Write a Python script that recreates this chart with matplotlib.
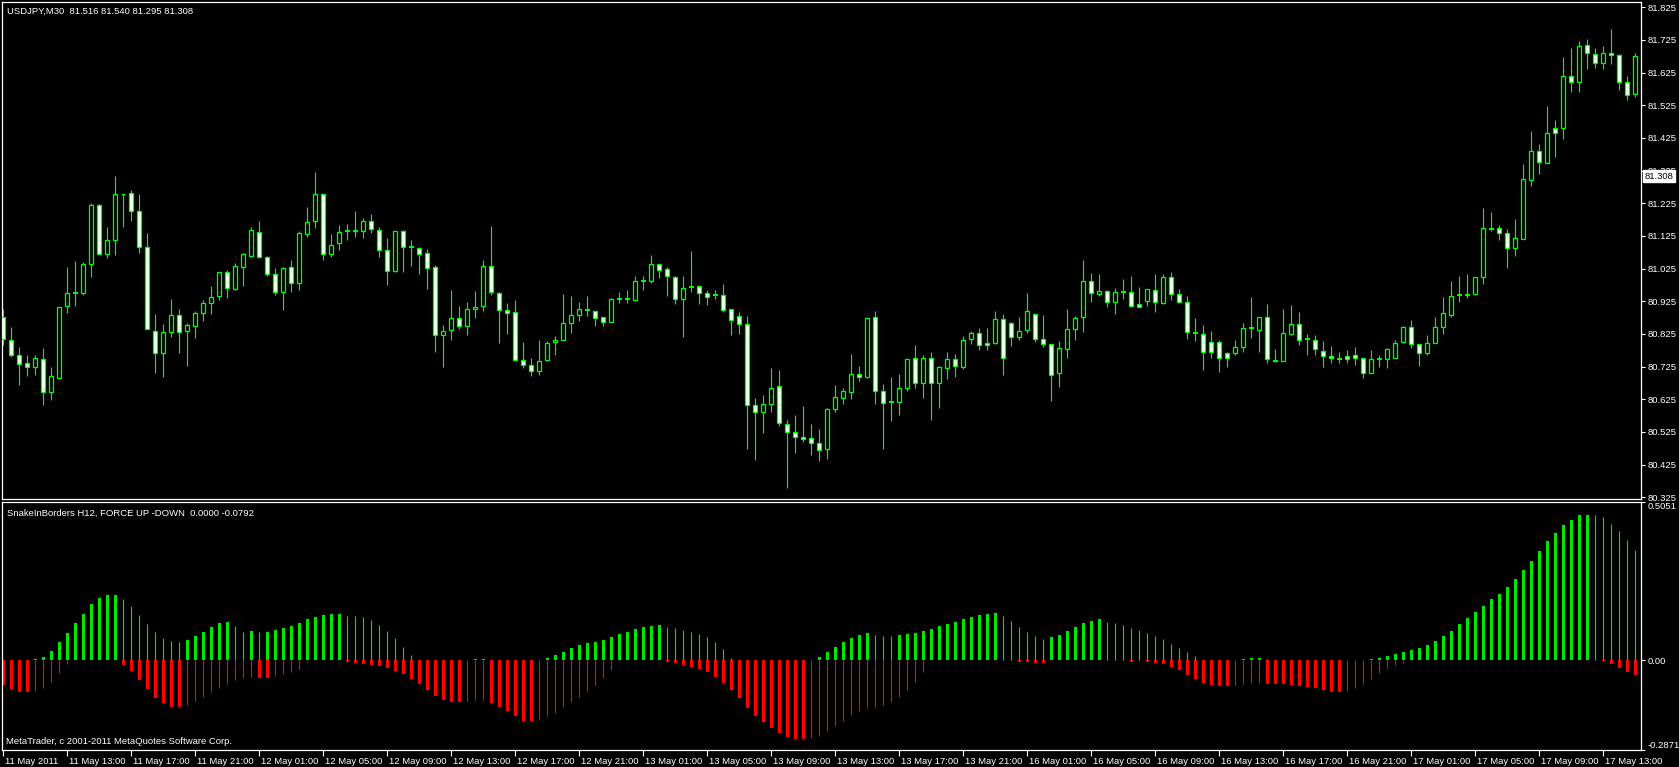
import numpy as np
import matplotlib
matplotlib.use("Agg")
import matplotlib.pyplot as plt
from matplotlib.transforms import ScaledTranslation, blended_transform_factory

# --- datos del grafico (USDJPY M30) ---
opens = [80.876, 80.808, 80.762, 80.735, 80.723, 80.747, 80.646, 80.690, 80.912, 80.949,
         80.951, 81.038, 81.219, 81.071, 81.113, 81.255, 81.258, 81.200, 81.092, 80.835,
         80.768, 80.832, 80.882, 80.835, 80.850, 80.888, 80.921, 80.942, 81.016, 80.964,
         81.031, 81.065, 81.136, 81.061, 81.009, 80.954, 81.029, 80.980, 81.130, 81.170,
         81.252, 81.069, 81.102, 81.139, 81.139, 81.139, 81.170, 81.142, 81.081, 81.019,
         81.139, 81.090, 81.087, 81.072, 81.029, 80.821, 80.836, 80.875, 80.848, 80.902,
         80.911, 81.032, 80.951, 80.897, 80.893, 80.746, 80.731, 80.713, 80.744, 80.799,
         80.808, 80.860, 80.882, 80.898, 80.894, 80.876, 80.863, 80.931, 80.931, 80.929,
         80.988, 80.988, 81.040, 81.023, 80.998, 80.933, 80.970, 80.972, 80.949, 80.945,
         80.943, 80.900, 80.879, 80.856, 80.608, 80.585, 80.612, 80.665, 80.551, 80.524,
         80.511, 80.508, 80.490, 80.474, 80.594, 80.630, 80.648, 80.701, 80.694, 80.876,
         80.652, 80.618, 80.618, 80.661, 80.750, 80.676, 80.750, 80.676, 80.720, 80.747,
         80.725, 80.810, 80.827, 80.796, 80.796, 80.870, 80.859, 80.817, 80.836, 80.885,
         80.811, 80.793, 80.706, 80.780, 80.839, 80.876, 80.986, 80.946, 80.958, 80.924,
         80.954, 80.954, 80.918, 80.927, 80.961, 80.920, 80.998, 80.946, 80.924, 80.829,
         80.824, 80.799, 80.799, 80.768, 80.768, 80.786, 80.843, 80.837, 80.876, 80.745,
         80.743, 80.824, 80.855, 80.810, 80.808, 80.773, 80.759, 80.749, 80.757, 80.760,
         80.753, 80.707, 80.749, 80.747, 80.753, 80.799, 80.845, 80.794, 80.767, 80.798,
         80.847, 80.884, 80.945, 80.945, 80.947, 80.998, 81.147, 81.148, 81.133, 81.087,
         81.117, 81.296, 81.386, 81.347, 81.455, 81.454, 81.616, 81.595, 81.711, 81.681,
         81.656, 81.685, 81.678, 81.595, 81.561]
highs = [80.903, 80.845, 80.786, 80.762, 80.762, 80.781, 80.723, 80.909, 81.029, 81.047,
         81.044, 81.225, 81.222, 81.154, 81.310, 81.255, 81.266, 81.255, 81.133, 80.885,
         80.857, 80.931, 80.903, 80.858, 80.895, 80.929, 80.971, 81.016, 81.020, 81.041,
         81.072, 81.154, 81.171, 81.065, 81.026, 81.029, 81.050, 81.140, 81.213, 81.321,
         81.258, 81.130, 81.160, 81.162, 81.200, 81.179, 81.191, 81.154, 81.118, 81.141,
         81.143, 81.112, 81.090, 81.086, 81.035, 80.851, 80.961, 80.912, 80.922, 80.958,
         81.050, 81.157, 80.952, 80.919, 80.929, 80.799, 80.753, 80.808, 80.804, 80.818,
         80.947, 80.941, 80.922, 80.941, 80.894, 80.876, 80.934, 80.952, 80.961, 81.004,
         81.004, 81.066, 81.040, 81.029, 81.004, 81.002, 81.078, 80.975, 80.961, 80.961,
         80.978, 80.903, 80.891, 80.880, 80.628, 80.637, 80.720, 80.715, 80.561, 80.577,
         80.604, 80.551, 80.533, 80.598, 80.668, 80.661, 80.763, 80.726, 80.873, 80.894,
         80.671, 80.692, 80.704, 80.747, 80.790, 80.762, 80.770, 80.726, 80.770, 80.763,
         80.819, 80.834, 80.843, 80.843, 80.894, 80.885, 80.862, 80.876, 80.949, 80.888,
         80.882, 80.793, 80.805, 80.900, 80.879, 81.050, 81.013, 81.010, 80.961, 80.965,
         80.992, 81.002, 80.969, 80.964, 81.008, 81.010, 81.014, 80.962, 80.941, 80.873,
         80.852, 80.833, 80.806, 80.770, 80.808, 80.859, 80.939, 80.876, 80.916, 80.779,
         80.903, 80.913, 80.892, 80.824, 80.822, 80.803, 80.788, 80.770, 80.776, 80.786,
         80.753, 80.776, 80.760, 80.781, 80.806, 80.849, 80.867, 80.794, 80.822, 80.876,
         80.939, 80.987, 81.002, 81.010, 81.000, 81.212, 81.198, 81.160, 81.145, 81.177,
         81.345, 81.446, 81.408, 81.523, 81.480, 81.672, 81.699, 81.722, 81.727, 81.699,
         81.706, 81.758, 81.682, 81.614, 81.686]
lows = [80.791, 80.755, 80.669, 80.696, 80.699, 80.607, 80.623, 80.687, 80.889, 80.910,
        80.944, 80.999, 81.071, 81.058, 81.068, 81.153, 81.172, 81.074, 80.839, 80.706,
        80.693, 80.816, 80.768, 80.727, 80.813, 80.865, 80.887, 80.929, 80.935, 80.959,
        80.972, 81.060, 81.057, 81.004, 80.945, 80.898, 80.953, 80.959, 81.121, 81.150,
        81.051, 81.060, 81.082, 81.112, 81.121, 81.120, 81.135, 81.060, 80.975, 81.015,
        81.015, 81.033, 81.008, 80.962, 80.771, 80.725, 80.806, 80.841, 80.822, 80.873,
        80.896, 80.945, 80.798, 80.826, 80.745, 80.722, 80.697, 80.699, 80.743, 80.761,
        80.806, 80.829, 80.866, 80.881, 80.850, 80.850, 80.862, 80.921, 80.921, 80.927,
        80.959, 80.982, 80.996, 80.942, 80.918, 80.817, 80.954, 80.917, 80.914, 80.932,
        80.893, 80.822, 80.825, 80.473, 80.439, 80.522, 80.586, 80.543, 80.354, 80.461,
        80.495, 80.455, 80.437, 80.443, 80.587, 80.611, 80.627, 80.681, 80.691, 80.611,
        80.474, 80.559, 80.578, 80.651, 80.660, 80.630, 80.561, 80.599, 80.687, 80.693,
        80.719, 80.794, 80.776, 80.776, 80.794, 80.699, 80.789, 80.806, 80.829, 80.801,
        80.786, 80.621, 80.663, 80.752, 80.807, 80.832, 80.924, 80.942, 80.908, 80.887,
        80.932, 80.908, 80.908, 80.912, 80.893, 80.918, 80.930, 80.920, 80.811, 80.804,
        80.714, 80.752, 80.709, 80.725, 80.762, 80.770, 80.813, 80.770, 80.737, 80.738,
        80.743, 80.823, 80.791, 80.762, 80.760, 80.725, 80.737, 80.737, 80.737, 80.730,
        80.689, 80.707, 80.725, 80.722, 80.752, 80.796, 80.781, 80.728, 80.762, 80.796,
        80.826, 80.878, 80.924, 80.934, 80.944, 80.978, 81.141, 81.114, 81.028, 81.063,
        81.115, 81.279, 81.314, 81.347, 81.367, 81.421, 81.565, 81.565, 81.637, 81.640,
        81.637, 81.651, 81.573, 81.542, 81.550]
closes = [80.811, 80.762, 80.732, 80.723, 80.750, 80.646, 80.695, 80.909, 80.949, 80.949,
          81.038, 81.219, 81.071, 81.113, 81.252, 81.253, 81.202, 81.092, 80.839, 80.766,
          80.832, 80.882, 80.830, 80.854, 80.888, 80.919, 80.939, 81.016, 80.965, 81.032,
          81.069, 81.142, 81.062, 81.010, 80.955, 81.026, 80.980, 81.133, 81.167, 81.252,
          81.069, 81.098, 81.136, 81.139, 81.142, 81.172, 81.145, 81.081, 81.017, 81.139,
          81.090, 81.090, 81.069, 81.026, 80.821, 80.833, 80.873, 80.848, 80.903, 80.909,
          81.032, 80.952, 80.897, 80.890, 80.745, 80.729, 80.713, 80.743, 80.798, 80.807,
          80.860, 80.882, 80.900, 80.898, 80.873, 80.863, 80.931, 80.931, 80.931, 80.986,
          80.988, 81.038, 81.022, 81.001, 80.933, 80.966, 80.970, 80.949, 80.939, 80.945,
          80.898, 80.869, 80.856, 80.608, 80.585, 80.612, 80.661, 80.554, 80.524, 80.511,
          80.505, 80.490, 80.469, 80.595, 80.631, 80.649, 80.701, 80.694, 80.873, 80.649,
          80.615, 80.618, 80.661, 80.747, 80.674, 80.750, 80.676, 80.723, 80.747, 80.728,
          80.808, 80.827, 80.792, 80.790, 80.870, 80.750, 80.817, 80.833, 80.894, 80.811,
          80.793, 80.698, 80.781, 80.839, 80.873, 80.986, 80.949, 80.958, 80.922, 80.952,
          80.954, 80.912, 80.908, 80.964, 80.922, 80.998, 80.946, 80.924, 80.832, 80.829,
          80.770, 80.770, 80.750, 80.750, 80.784, 80.842, 80.843, 80.876, 80.747, 80.743,
          80.827, 80.855, 80.806, 80.810, 80.778, 80.757, 80.750, 80.749, 80.747, 80.753,
          80.707, 80.748, 80.749, 80.778, 80.796, 80.847, 80.794, 80.767, 80.798, 80.847,
          80.888, 80.941, 80.945, 80.948, 81.000, 81.148, 81.147, 81.133, 81.087, 81.119,
          81.298, 81.386, 81.350, 81.439, 81.439, 81.616, 81.596, 81.708, 81.684, 81.656,
          81.684, 81.679, 81.595, 81.557, 81.676]

# SnakeInBorders H12 - FORCE UP / DOWN
force_up = [0.000, 0.000, 0.000, 0.000, 0.002, 0.011, 0.029, 0.058, 0.087, 0.119,
            0.148, 0.180, 0.199, 0.209, 0.209, 0.196, 0.173, 0.144, 0.115, 0.090,
            0.071, 0.061, 0.058, 0.064, 0.077, 0.090, 0.106, 0.119, 0.122, 0.109,
            0.090, 0.093, 0.090, 0.090, 0.096, 0.103, 0.109, 0.119, 0.132, 0.138,
            0.144, 0.148, 0.148, 0.141, 0.140, 0.138, 0.128, 0.112, 0.093, 0.071,
            0.042, 0.016, 0.000, 0.000, 0.000, 0.000, 0.000, 0.000, 0.001, 0.002,
            0.002, 0.000, 0.000, 0.000, 0.000, 0.000, 0.000, 0.001, 0.006, 0.016,
            0.026, 0.039, 0.048, 0.055, 0.058, 0.064, 0.074, 0.083, 0.090, 0.099,
            0.106, 0.109, 0.112, 0.106, 0.103, 0.096, 0.090, 0.083, 0.074, 0.058,
            0.035, 0.006, 0.000, 0.000, 0.000, 0.000, 0.000, 0.000, 0.000, 0.000,
            0.000, 0.001, 0.010, 0.026, 0.042, 0.058, 0.071, 0.080, 0.087, 0.080,
            0.077, 0.076, 0.080, 0.083, 0.087, 0.093, 0.099, 0.109, 0.116, 0.122,
            0.132, 0.138, 0.144, 0.148, 0.151, 0.141, 0.125, 0.106, 0.090, 0.077,
            0.067, 0.074, 0.080, 0.093, 0.106, 0.119, 0.125, 0.132, 0.122, 0.119,
            0.112, 0.103, 0.096, 0.087, 0.077, 0.067, 0.051, 0.038, 0.026, 0.013,
            0.001, 0.000, 0.000, 0.000, 0.001, 0.002, 0.006, 0.006, 0.002, 0.0015,
            0.001, 0.000, 0.000, 0.000, 0.000, 0.000, 0.000, 0.000, 0.000, 0.000,
            0.001, 0.002, 0.006, 0.013, 0.019, 0.026, 0.032, 0.038, 0.048, 0.061,
            0.077, 0.093, 0.116, 0.135, 0.154, 0.173, 0.196, 0.212, 0.234, 0.260,
            0.289, 0.318, 0.350, 0.379, 0.407, 0.433, 0.449, 0.462, 0.465, 0.462,
            0.456, 0.436, 0.411, 0.385, 0.353]
force_down = [-0.079, -0.093, -0.103, -0.103, -0.099, -0.090, -0.071, -0.042, -0.013, 0.000,
              0.000, 0.000, 0.000, 0.000, 0.000, -0.016, -0.035, -0.064, -0.093, -0.122,
              -0.138, -0.151, -0.151, -0.144, -0.132, -0.119, -0.103, -0.090, -0.077, -0.064,
              -0.058, -0.055, -0.058, -0.058, -0.051, -0.045, -0.038, -0.029, -0.006, 0.000,
              0.000, 0.000, 0.000, -0.006, -0.010, -0.013, -0.016, -0.019, -0.026, -0.035,
              -0.045, -0.061, -0.077, -0.096, -0.116, -0.128, -0.135, -0.135, -0.132, -0.128,
              -0.127, -0.138, -0.151, -0.164, -0.180, -0.193, -0.196, -0.189, -0.180, -0.170,
              -0.151, -0.135, -0.119, -0.099, -0.080, -0.058, -0.032, -0.003, 0.000, 0.000,
              0.000, 0.000, 0.000, -0.006, -0.010, -0.016, -0.022, -0.029, -0.038, -0.055,
              -0.074, -0.096, -0.122, -0.154, -0.180, -0.199, -0.218, -0.234, -0.247, -0.253,
              -0.253, -0.250, -0.241, -0.225, -0.209, -0.193, -0.176, -0.164, -0.154, -0.151,
              -0.144, -0.135, -0.119, -0.096, -0.071, -0.038, 0.000, 0.000, 0.000, 0.000,
              0.000, 0.000, 0.000, 0.000, 0.000, 0.000, 0.000, -0.006, -0.006, -0.010,
              -0.010, 0.000, 0.000, 0.000, 0.000, 0.000, 0.000, 0.000, 0.000, 0.000,
              0.000, -0.006, -0.003, -0.006, -0.010, -0.013, -0.022, -0.032, -0.048, -0.061,
              -0.074, -0.080, -0.083, -0.083, -0.080, -0.077, -0.074, -0.073, -0.077, -0.077,
              -0.077, -0.080, -0.083, -0.087, -0.090, -0.096, -0.103, -0.103, -0.099, -0.090,
              -0.077, -0.061, -0.042, -0.026, -0.016, -0.010, -0.003, 0.000, 0.000, 0.000,
              0.000, 0.000, 0.000, 0.000, 0.000, 0.000, 0.000, 0.000, 0.000, 0.000,
              0.000, 0.000, 0.000, 0.000, 0.000, 0.000, 0.000, 0.000, 0.000, 0.000,
              -0.003, -0.013, -0.026, -0.038, -0.048]

price_ticks = [81.825, 81.725, 81.625, 81.525, 81.425, 81.325, 81.225, 81.125, 81.025,
               80.925, 80.825, 80.725, 80.625, 80.525, 80.425, 80.325]
time_labels = ["11 May 2011", "11 May 13:00", "11 May 17:00", "11 May 21:00",
               "12 May 01:00", "12 May 05:00", "12 May 09:00", "12 May 13:00",
               "12 May 17:00", "12 May 21:00", "13 May 01:00", "13 May 05:00",
               "13 May 09:00", "13 May 13:00", "13 May 17:00", "13 May 21:00",
               "16 May 01:00", "16 May 05:00", "16 May 09:00", "16 May 13:00",
               "16 May 17:00", "16 May 21:00", "17 May 01:00", "17 May 05:00",
               "17 May 09:00", "17 May 13:00"]
bid = 81.308

W, H = 1679, 767
LIME = "#00ff00"
GREEN = "#00e600"
RED = "#ff0000"
FONT = "Liberation Sans"
FS = 6.8

fig = plt.figure(figsize=(W / 100, H / 100), dpi=100, facecolor="black")

# Areas (pixeles)
x_left, x_right = 2, 1641
ax = fig.add_axes([x_left / W, (H - 499) / H, (x_right - x_left) / W, (499 - 2) / H])
axi = fig.add_axes([x_left / W, (H - 750) / H, (x_right - x_left) / W, (750 - 502) / H])

n = len(opens)
x = np.arange(n)
o = np.array(opens); c = np.array(closes); hi = np.array(highs); lo = np.array(lows)

for a in (ax, axi):
    a.set_facecolor("black")
    for s in a.spines.values():
        s.set_color("white")
        s.set_linewidth(0.9)
    a.set_xlim(-0.1625, 204.71)

# Velas
ax.vlines(x, lo, hi, color=LIME, linewidth=0.8, zorder=2)
body = np.abs(c - o)
flat = body < 0.0005
bear = (c < o) & ~flat
bull = (c > o) & ~flat
ax.bar(x[bear], body[bear], bottom=np.minimum(o, c)[bear], width=0.5,
       color="white", edgecolor=LIME, linewidth=0.9, zorder=3)
ax.bar(x[bull], body[bull], bottom=np.minimum(o, c)[bull], width=0.5,
       color="black", edgecolor=LIME, linewidth=0.9, zorder=3)
ax.hlines(c[flat], x[flat] - 0.3, x[flat] + 0.3, color=LIME, linewidth=1.4, zorder=3)

ax.set_ylim(80.3199, 81.8412)
ax.yaxis.tick_right()
ax.set_yticks(price_ticks)
ax.set_yticklabels([f"{p:.3f}" for p in price_ticks])
ax.tick_params(axis="y", colors="white", length=3, width=0.8, pad=2, labelsize=FS)
for t in ax.get_yticklabels():
    t.set_fontfamily(FONT)
ax.set_xticks([])

# precio actual (tapa la etiqueta 81.325 como en el terminal)
tr = blended_transform_factory(ax.transAxes, ax.transData)
ax.text(1.0022, bid, f"{bid:.3f}", transform=tr, ha="left", va="center", color="black",
        fontsize=FS, family=FONT, zorder=10, clip_on=False,
        bbox=dict(facecolor="white", edgecolor="white", pad=1.2))

# Indicador
up = np.array(force_up); dn = np.array(force_down)
up_prev = np.concatenate([[up[0]], up[:-1]])
dn_prev = np.concatenate([[dn[0]], dn[:-1]])
up_thick = (up >= up_prev) & (up > 0)
up_thin = (up < up_prev) & (up > 0)
dn_thick = (dn <= dn_prev) & (dn < 0)
dn_thin = (dn > dn_prev) & (dn < 0)

axi.bar(x[up_thick], up[up_thick], width=0.42, color=GREEN, linewidth=0)
axi.vlines(x[up_thin], 0, up[up_thin], color=GREEN, linewidth=0.8)
axi.bar(x[dn_thick], dn[dn_thick], width=0.42, color=RED, linewidth=0)
axi.vlines(x[dn_thin], 0, dn[dn_thin], color=RED, linewidth=0.8)

axi.set_ylim(-0.2871, 0.5051)
axi.yaxis.tick_right()
axi.set_yticks([0.5051, 0.0, -0.2871])
axi.set_yticklabels(["0.5051", "0.00", "-0.2871"])
axi.tick_params(axis="y", colors="white", length=3, width=0.8, pad=2, labelsize=FS)
ylabs = axi.get_yticklabels()
ylabs[0].set_va("top")
ylabs[2].set_va("bottom")
for t in ylabs:
    t.set_fontfamily(FONT)

axi.set_xticks(np.arange(0, n, 8)[:len(time_labels)])
axi.set_xticklabels(time_labels, ha="left")
axi.tick_params(axis="x", colors="white", length=4, width=0.8, pad=1, labelsize=FS)
off = ScaledTranslation(1.5 / 100, 0, fig.dpi_scale_trans)
for t in axi.get_xticklabels():
    t.set_fontfamily(FONT)
    t.set_transform(t.get_transform() + off)

# Textos
fig.text(7 / W, 1 - 11 / H, "USDJPY,M30  81.516 81.540 81.295 81.308", color="white",
         fontsize=FS, family=FONT, va="center", ha="left")
fig.text(7 / W, 1 - 513 / H, "SnakeInBorders H12, FORCE UP -DOWN  0.0000 -0.0792",
         color="white", fontsize=FS, family=FONT, va="center", ha="left")
fig.text(6 / W, 1 - 742 / H, "MetaTrader, c 2001-2011 MetaQuotes Software Corp.",
         color="white", fontsize=FS, family=FONT, va="center", ha="left")

fig.savefig("out.png", dpi=100, facecolor="black")
